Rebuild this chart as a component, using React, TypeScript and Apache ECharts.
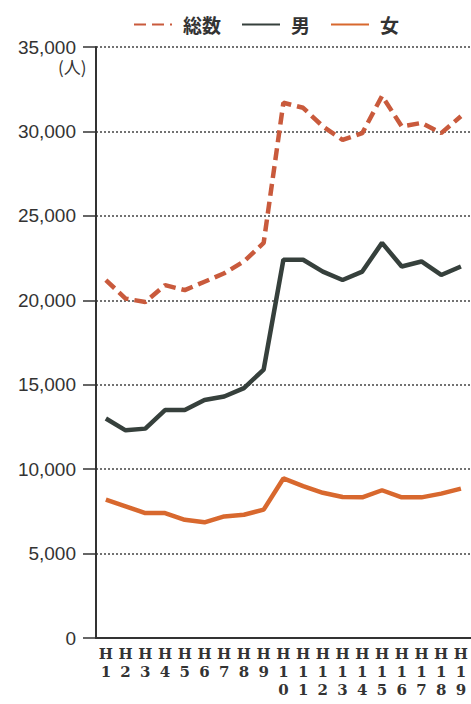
import React, { useEffect, useRef } from "react";
import * as echarts from "echarts";

const categories = ["H1","H2","H3","H4","H5","H6","H7","H8","H9","H10","H11","H12","H13","H14","H15","H16","H17","H18","H19"];
const totalValues = [21200, 20100, 19900, 20900, 20600, 21100, 21600, 22300, 23400, 31700, 31400, 30300, 29500, 29900, 32100, 30300, 30500, 29900, 30900];
const maleValues = [13000, 12300, 12400, 13500, 13500, 14100, 14300, 14800, 15900, 22400, 22400, 21700, 21200, 21700, 23400, 22000, 22300, 21500, 22000];
const femaleValues = [8200, 7800, 7400, 7400, 7000, 6850, 7200, 7300, 7600, 9450, 9000, 8600, 8350, 8330, 8750, 8330, 8330, 8550, 8850];
const seriesNames = ["総数", "男", "女"];
const unitLabel = "(人)";

export default function App() {
  const ref = useRef<HTMLDivElement>(null);
  useEffect(() => {
    if (!ref.current) return;
    const chart = echarts.init(ref.current, null, { renderer: "svg" });
    const jp = '"Noto Sans CJK JP", "Noto Sans", sans-serif';
    chart.setOption({
      animation: false,
      backgroundColor: "#ffffff",
      legend: {
        top: 10,
        left: 128,
        itemWidth: 38,
        itemHeight: 6,
        itemGap: 20,
        itemStyle: { opacity: 0 },
        textStyle: { fontFamily: jp, fontSize: 19, fontWeight: "bold", color: "#333", padding: [0, 0, 0, 6] },
        data: seriesNames,
      },
      grid: { left: 96, right: 0, top: 47, bottom: 66, containLabel: false },
      graphic: [
        {
          type: "text",
          left: 58,
          top: 58,
          style: { text: unitLabel, font: `17px ${jp}`, fill: "#333" },
        },
      ],
      xAxis: {
        type: "category",
        data: categories,
        boundaryGap: true,
        axisLine: { lineStyle: { color: "#333", width: 2 } },
        axisTick: { alignWithLabel: true, length: 6, lineStyle: { color: "#333", width: 1.5 } },
        axisLabel: {
          interval: 0,
          margin: 7,
          fontFamily: '"DejaVu Serif", "Liberation Serif", serif',
          fontSize: 15,
          fontWeight: "bold",
          lineHeight: 18,
          color: "#333",
          formatter: (v: string) => v.split("").join("\n"),
        },
        splitLine: { show: false },
      },
      yAxis: {
        type: "value",
        min: 0,
        max: 35000,
        interval: 5000,
        axisLine: { show: true, lineStyle: { color: "#333", width: 2 } },
        axisTick: { show: true, length: 13, lineStyle: { color: "#333", width: 1.5 } },
        axisLabel: {
          margin: 20,
          fontFamily: '"Liberation Sans", Arial, sans-serif',
          fontSize: 19,
          color: "#333",
          formatter: (v: number) => v.toLocaleString("en-US"),
        },
        splitLine: { show: true, lineStyle: { color: "#444", type: [2, 2], width: 1.5 } },
      },
      series: [
        {
          name: seriesNames[0],
          type: "line",
          data: totalValues,
          symbol: "none",
          color: "#c95a3c",
          lineStyle: { color: "#c95a3c", width: 4.5, type: [12, 6] },
        },
        {
          name: seriesNames[1],
          type: "line",
          data: maleValues,
          symbol: "none",
          color: "#36403c",
          lineStyle: { color: "#36403c", width: 4.5 },
        },
        {
          name: seriesNames[2],
          type: "line",
          data: femaleValues,
          symbol: "none",
          color: "#d8682e",
          lineStyle: { color: "#d8682e", width: 4.5 },
        },
      ],
    });
    return () => chart.dispose();
  }, []);
  return <div ref={ref} style={{ width: 471, height: 704, position: "absolute", left: 0, top: 0 }} />;
}
